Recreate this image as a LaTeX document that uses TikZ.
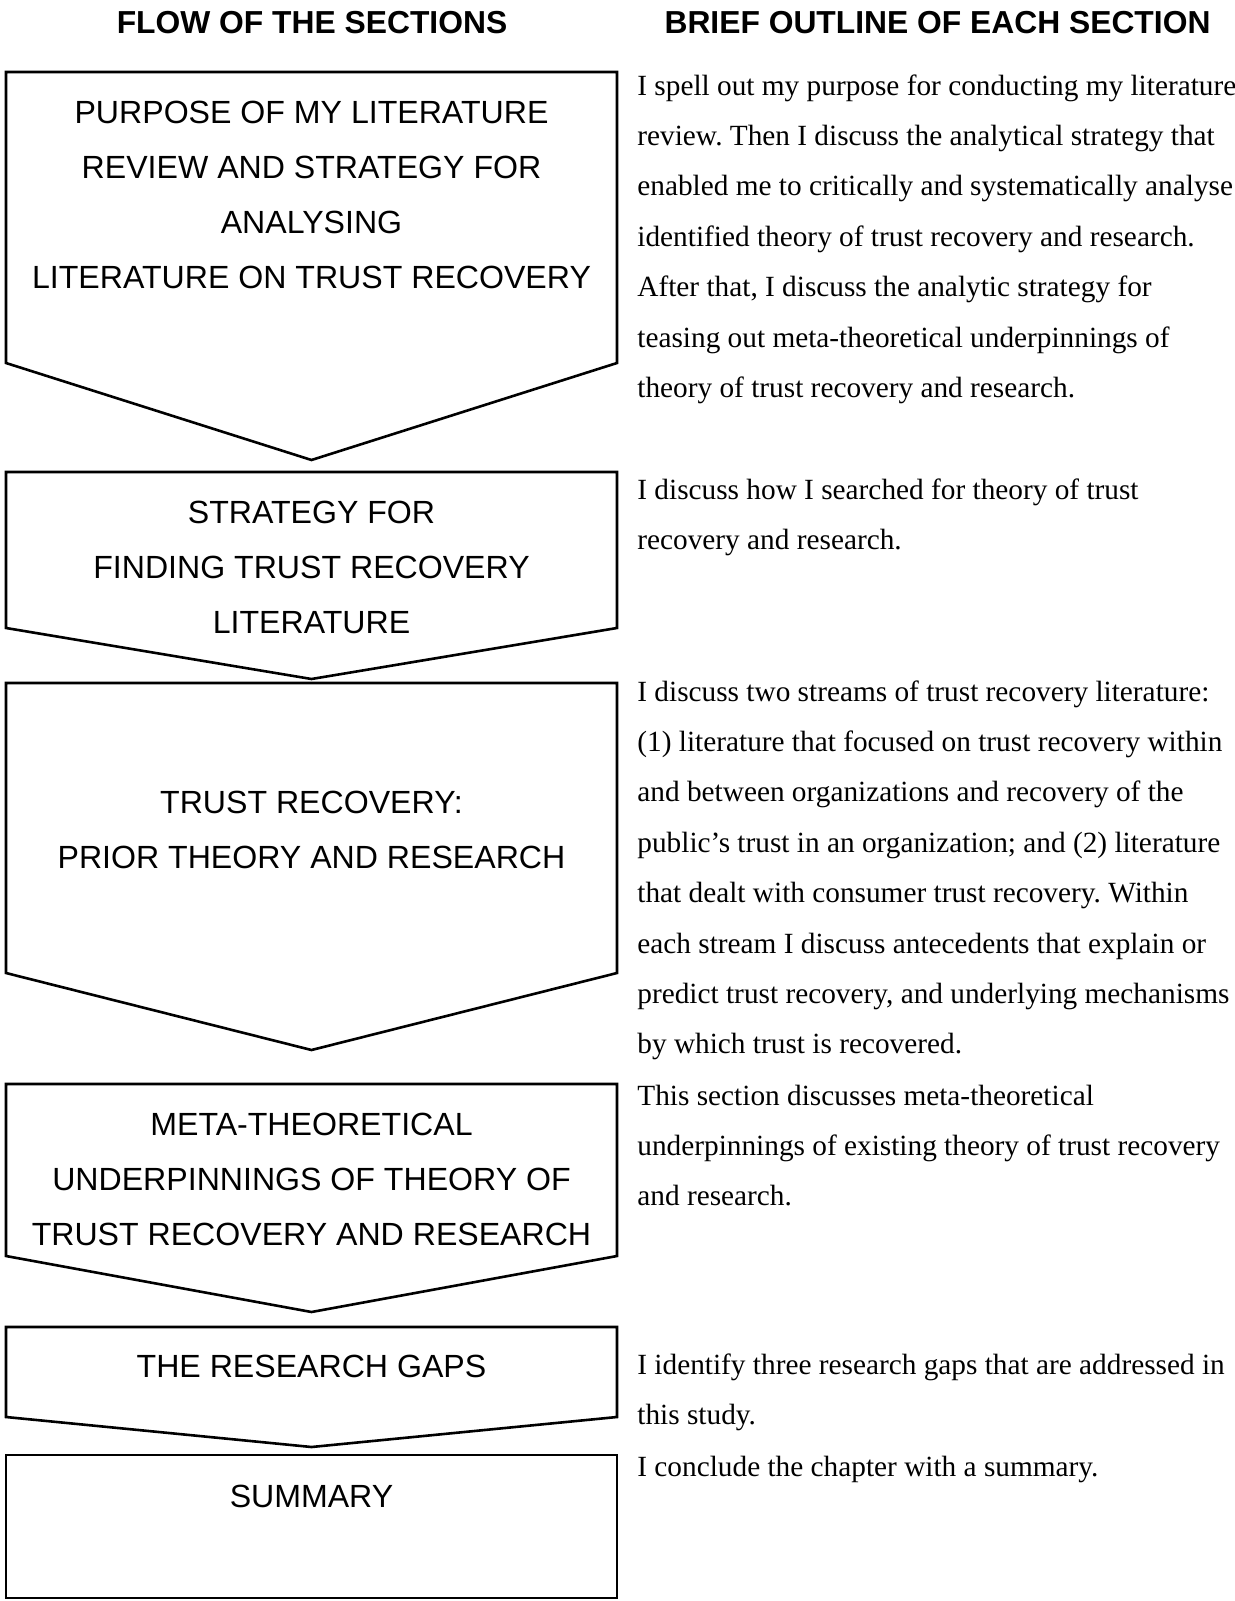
\documentclass[tikz,border=0pt]{standalone}
\usepackage{fontspec}
\setmainfont{Liberation Serif}
\setsansfont{Liberation Sans}
\frenchspacing
% stacked lines whose baseline is the first line's baseline
\newcommand{\linestack}[2]{\begin{tabular}[t]{@{}#1@{}}#2\end{tabular}}
% down-pointing section box: top, side bottom, tip
\newcommand{\chevronbox}[4]{%
  \draw[flowbox] (6,#2) -- (617,#2) -- (617,#3) -- (311.5,#4) -- (6,#3) -- cycle;
  \coordinate (#1) at (311.5,#2);}
\tikzset{
  flowbox/.style={draw=black, line width=1.3pt, line join=miter},
  boxtext/.style={anchor=base, inner sep=0pt, font=\sffamily\fontsize{16.05}{27.5}\selectfont},
  headtext/.style={anchor=base, inner sep=0pt, font=\sffamily\bfseries\fontsize{15.9}{19}\selectfont},
  outline/.style={anchor=base west, inner sep=0pt, font=\rmfamily\fontsize{14.65}{25.2}\selectfont},
}
\begin{document}
\begin{tikzpicture}[x=0.5pt, y=-0.5pt]
\fill[white] (0,0) rectangle (1235,1601);
\useasboundingbox (0,0) rectangle (1235,1601);

% column headings
\node[headtext] (hflow) at (312,33) {FLOW OF THE SECTIONS};
\node[headtext] (hbrief) at (937.5,33) {BRIEF OUTLINE OF EACH SECTION};

% section boxes
\chevronbox{b1}{72}{363}{460}
\chevronbox{b2}{472}{628}{679}
\chevronbox{b3}{683}{973}{1050}
\chevronbox{b4}{1084}{1256}{1312}
\chevronbox{b5}{1327}{1417}{1447}
\draw[flowbox] (6,1455) rectangle (617,1598);
\coordinate (b6) at (311.5,1455);

% box titles
\node[boxtext] (t1) at (311.5,123) {\linestack{c}{PURPOSE OF MY LITERATURE\\REVIEW AND STRATEGY FOR\\ANALYSING\\LITERATURE ON TRUST RECOVERY}};
\node[boxtext] (t2) at (311.5,523) {\linestack{c}{STRATEGY FOR\\FINDING TRUST RECOVERY\\LITERATURE}};
\node[boxtext] (t3) at (311.5,813) {\linestack{c}{TRUST RECOVERY:\\PRIOR THEORY AND RESEARCH}};
\node[boxtext] (t4) at (311.5,1135) {\linestack{c}{META-THEORETICAL\\UNDERPINNINGS OF THEORY OF\\TRUST RECOVERY AND RESEARCH}};
\node[boxtext] (t5) at (311.5,1377) {THE RESEARCH GAPS};
\node[boxtext] (t6) at (311.5,1507) {SUMMARY};

% outlines
\node[outline] (o1) at (637,95) {\linestack{l}{I spell out my purpose for conducting my literature\\review. Then I discuss the analytical strategy that\\enabled me to critically and systematically analyse\\identified theory of trust recovery and research.\\After that, I discuss the analytic strategy for\\teasing out meta-theoretical underpinnings of\\theory of trust recovery and research.}};
\node[outline] (o2) at (637,499) {\linestack{l}{I discuss how I searched for theory of trust\\recovery and research.}};
\node[outline] (o3) at (637,701) {\linestack{l}{I discuss two streams of trust recovery literature:\\(1) literature that focused on trust recovery within\\and between organizations and recovery of the\\public’s trust in an organization; and (2) literature\\that dealt with consumer trust recovery. Within\\each stream I discuss antecedents that explain or\\predict trust recovery, and underlying mechanisms\\by which trust is recovered.}};
\node[outline] (o4) at (637,1105) {\linestack{l}{This section discusses meta-theoretical\\underpinnings of existing theory of trust recovery\\and research.}};
\node[outline] (o5) at (637,1374) {\linestack{l}{I identify three research gaps that are addressed in\\this study.}};
\node[outline] (o6) at (637,1476) {I conclude the chapter with a summary.};
\end{tikzpicture}
\end{document}
